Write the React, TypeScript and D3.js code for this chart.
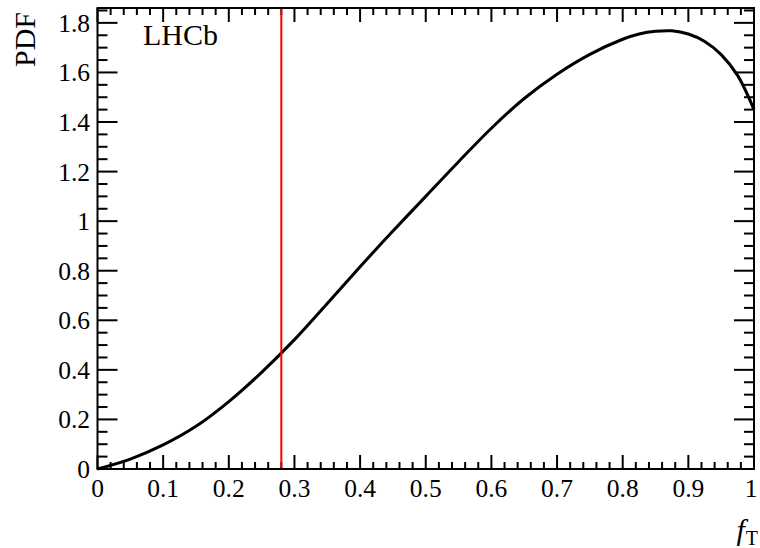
import React from "react";
import * as d3 from "d3";

// f_T values and PDF
const fT = [0, 0.05, 0.1, 0.15, 0.2, 0.25, 0.3, 0.35, 0.4, 0.45, 0.5, 0.55, 0.6, 0.65, 0.7, 0.75, 0.8, 0.825, 0.85, 0.875, 0.9, 0.925, 0.95, 0.975, 1.0];
const pdf = [0, 0.04, 0.097, 0.172, 0.272, 0.39, 0.522, 0.668, 0.816, 0.96, 1.1, 1.24, 1.375, 1.495, 1.593, 1.673, 1.734, 1.755, 1.766, 1.768, 1.755, 1.725, 1.672, 1.588, 1.45];
const cutValue = 0.28;
const xTicks = [0, 0.1, 0.2, 0.3, 0.4, 0.5, 0.6, 0.7, 0.8, 0.9, 1];
const yTicks = [0, 0.2, 0.4, 0.6, 0.8, 1, 1.2, 1.4, 1.6, 1.8];

const W = 760;
const H = 548;
const margin = { top: 8, right: 6, bottom: 79, left: 97.5 };
const font = "'Liberation Serif', 'DejaVu Serif', serif";

export default function App() {
  const x = d3.scaleLinear().domain([0, 1]).range([margin.left, W - margin.right]);
  const y = d3.scaleLinear().domain([0, 1.86]).range([H - margin.bottom, margin.top]);
  const [x0, x1] = x.range();
  const [y0, y1] = y.range();

  const points = fT.map((f, i) => [f, pdf[i]] as [number, number]);
  const line = d3.line<[number, number]>()
    .x(d => x(d[0]))
    .y(d => y(d[1]))
    .curve(d3.curveCatmullRom.alpha(0.5));

  const xMinor = d3.range(0, 1.0001, 0.02);
  const yMinor = d3.range(0, 1.86, 0.05);
  const fmt = d3.format("~g");

  return (
    <svg width={W} height={H} style={{ display: "block", position: "absolute", left: 0, top: 0, background: "#fff" }}>
      <g stroke="#000" strokeWidth={2}>
        {xMinor.map((t, i) => {
          const major = Math.abs(t * 10 - Math.round(t * 10)) < 1e-6;
          const len = major ? 14 : 7;
          return (
            <g key={"xt" + i}>
              <line x1={x(t)} x2={x(t)} y1={y0} y2={y0 - len} />
              <line x1={x(t)} x2={x(t)} y1={y1} y2={y1 + len} />
            </g>
          );
        })}
        {yMinor.map((t, i) => {
          const major = Math.abs(t * 5 - Math.round(t * 5)) < 1e-6;
          const len = major ? 20 : 10;
          return (
            <g key={"yt" + i}>
              <line x1={x0} x2={x0 + len} y1={y(t)} y2={y(t)} />
              <line x1={x1} x2={x1 - len} y1={y(t)} y2={y(t)} />
            </g>
          );
        })}
      </g>

      <path d={line(points) ?? ""} fill="none" stroke="#000" strokeWidth={3} />
      <line x1={x(cutValue)} x2={x(cutValue)} y1={y0} y2={y1} stroke="#ff0000" strokeWidth={2} />

      <rect x={x0} y={y1} width={x1 - x0} height={y0 - y1} fill="none" stroke="#000" strokeWidth={2} />

      <g fontFamily={font} fontSize={25.5} fill="#000">
        {xTicks.map(t => (
          <text key={"xl" + t} textAnchor="middle" x={t === 1 ? x(t) - 3 : x(t)} y={497}>
            {fmt(t)}
          </text>
        ))}
        {yTicks.map(t => (
          <text key={"yl" + t} textAnchor="end" x={90} y={y(t) + 9}>
            {fmt(t)}
          </text>
        ))}
      </g>

      <text x={143} y={45} fontFamily={font} fontSize={30}>LHCb</text>
      <text transform="translate(35,12) rotate(-90)" textAnchor="end" fontFamily={font} fontSize={30}>PDF</text>
      <text x={758} y={540} textAnchor="end" fontFamily={font} fontSize={30}>
        <tspan fontStyle="italic">f</tspan>
        <tspan fontSize={20} dy={5} dx={1}>T</tspan>
      </text>
    </svg>
  );
}
